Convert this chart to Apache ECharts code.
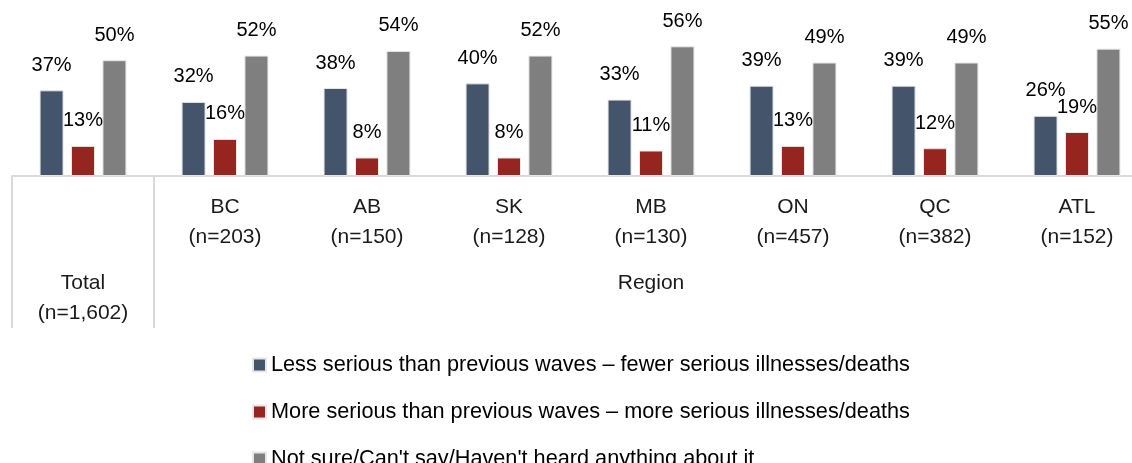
<!DOCTYPE html>
<html>
<head>
<meta charset="utf-8">
<script src="https://cdn.jsdelivr.net/npm/echarts@6/dist/echarts.min.js"></script>
<style>
html,body{margin:0;padding:0;background:#fff;}
#chart{width:1132px;height:463px;}
</style>
</head>
<body>
<div id="chart"></div>
<script>
const categories = ['Total', 'BC', 'AB', 'SK', 'MB', 'ON', 'QC', 'ATL'];
const sampleSizes = ['(n=1,602)', '(n=203)', '(n=150)', '(n=128)', '(n=130)', '(n=457)', '(n=382)', '(n=152)'];
const groupLabel = 'Region';
const seriesNames = [
  'Less serious than previous waves – fewer serious illnesses/deaths',
  'More serious than previous waves – more serious illnesses/deaths',
  "Not sure/Can't say/Haven't heard anything about it"
];
const lessSerious = [37, 32, 38, 40, 33, 39, 39, 26];
const moreSerious = [13, 16, 8, 8, 11, 13, 12, 19];
const notSure = [50, 52, 54, 52, 56, 49, 49, 55];

const FONT = 'Liberation Sans, Arial, sans-serif';
const colors = ['#44546A', '#962520', '#7F7F7F'];
const chart = echarts.init(document.getElementById('chart'));

function mkSeries(name, data, color) {
  return {
    name: name,
    type: 'bar',
    data: data,
    barWidth: 24,
    barGap: '31%',
    itemStyle: { color: color, borderColor: '#e6e6e6', borderWidth: 1 },
    label: {
      show: true,
      position: 'top',
      distance: 15,
      formatter: '{c}%',
      color: '#000',
      fontFamily: FONT,
      fontSize: 20
    }
  };
}

chart.setOption({
  animation: false,
  textStyle: { fontFamily: FONT },
  grid: { left: 12, top: 0, right: -16, height: 176, outerBoundsMode: 'none', containLabel: false },
  legend: {
    orient: 'vertical',
    left: 247,
    top: 349,
    height: 200,
    itemWidth: 13,
    itemHeight: 13,
    itemGap: 25,
    icon: 'rect',
    textStyle: { fontFamily: FONT, fontSize: 21.7, color: '#000' },
    data: seriesNames
  },
  xAxis: {
    type: 'category',
    data: categories,
    axisLine: { lineStyle: { color: '#d9d9d9', width: 2 } },
    axisTick: {
      show: true,
      length: 152,
      interval: function (index) { return index === 0 || index === 1; },
      lineStyle: { color: '#d9d9d9', width: 2 }
    },
    axisLabel: {
      margin: 16,
      interval: 0,
      formatter: function (value, index) {
        if (index === 0) {
          return '{s| }\n{a|' + value + '}\n{a|' + sampleSizes[index] + '}';
        }
        if (index === 4) {
          return '{a|' + value + '}\n{a|' + sampleSizes[index] + '}\n{r|' + groupLabel + '}';
        }
        return '{a|' + value + '}\n{a|' + sampleSizes[index] + '}';
      },
      rich: {
        a: { fontFamily: FONT, fontSize: 21, lineHeight: 30, color: '#1a1a1a' },
        s: { fontFamily: FONT, fontSize: 21, lineHeight: 76 },
        r: { fontFamily: FONT, fontSize: 21, lineHeight: 62, color: '#1a1a1a' }
      }
    }
  },
  yAxis: {
    type: 'value',
    min: 0,
    max: 76,
    show: false,
    splitLine: { show: false }
  },
  series: [
    mkSeries(seriesNames[0], lessSerious, colors[0]),
    mkSeries(seriesNames[1], moreSerious, colors[1]),
    mkSeries(seriesNames[2], notSure, colors[2])
  ]
});
</script>
</body>
</html>
